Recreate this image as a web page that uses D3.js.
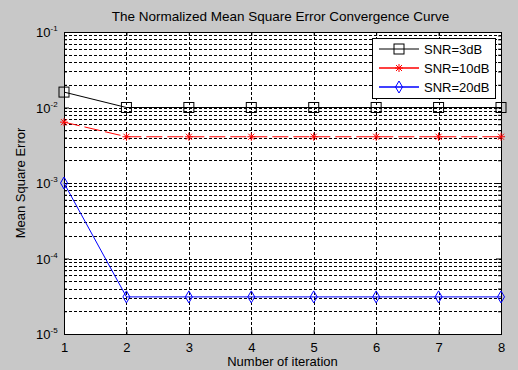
<!DOCTYPE html>
<html>
<head>
<meta charset="utf-8">
<script src="https://cdn.jsdelivr.net/npm/d3@7"></script>
<style>
  body { margin: 0; background: #c8c8c8; }
  svg { display: block; font-family: Arial, "Liberation Sans", sans-serif; }
</style>
</head>
<body>
<svg id="chart" width="518" height="370"></svg>
<script>
// data
const iterations = [1, 2, 3, 4, 5, 6, 7, 8];
const snr3 = [0.016, 0.01, 0.01, 0.01, 0.01, 0.01, 0.01, 0.01];
const snr10 = [0.0064, 0.0041, 0.0041, 0.0041, 0.0041, 0.0041, 0.0041, 0.0041];
const snr20 = [0.001, 3.1e-5, 3.1e-5, 3.1e-5, 3.1e-5, 3.1e-5, 3.1e-5, 3.1e-5];
const seriesNames = ["SNR=3dB", "SNR=10dB", "SNR=20dB"];
const yDecades = [-5, -4, -3, -2, -1];

const svg = d3.select("#chart");
const pLeft = 64, pRight = 501, pTop = 32, pBottom = 334;

const x = d3.scaleLinear().domain([1, 8]).range([pLeft, pRight]);
const y = d3.scaleLog().domain([1e-5, 1e-1]).range([pBottom, pTop]);

svg.append("rect").attr("width", 518).attr("height", 370).attr("fill", "#c8c8c8");
svg.append("rect")
    .attr("x", pLeft).attr("y", pTop)
    .attr("width", pRight - pLeft).attr("height", pBottom - pTop)
    .attr("fill", "white");

// grid
const grid = svg.append("g").attr("stroke", "black").attr("stroke-width", 1)
    .attr("stroke-dasharray", "3,2").attr("shape-rendering", "crispEdges");

const minorVals = [];
yDecades.slice(0, -1).forEach(e => {
    for (let m = 1; m < 10; m++) minorVals.push(m * Math.pow(10, e));
});
minorVals.push(1e-1);

grid.selectAll("line.h")
    .data(minorVals.filter(v => v < 0.099 && v > 1.01e-5))
    .enter().append("line")
    .attr("x1", pLeft).attr("x2", pRight)
    .attr("y1", d => Math.round(y(d)) + 0.5)
    .attr("y2", d => Math.round(y(d)) + 0.5);

grid.selectAll("line.v")
    .data(iterations.slice(1, -1))
    .enter().append("line")
    .attr("y1", pTop).attr("y2", pBottom)
    .attr("x1", d => Math.round(x(d)) + 0.5)
    .attr("x2", d => Math.round(x(d)) + 0.5);

// axes box
svg.append("rect")
    .attr("x", pLeft + 0.5).attr("y", pTop + 0.5)
    .attr("width", pRight - pLeft).attr("height", pBottom - pTop)
    .attr("fill", "none").attr("stroke", "black").attr("shape-rendering", "crispEdges");

// axes with inward ticks
const xAxis = d3.axisBottom(x).tickValues(iterations).tickFormat(d3.format("d"))
    .tickSizeInner(-4).tickSizeOuter(0).tickPadding(9);
const gx = svg.append("g").attr("transform", `translate(0,${pBottom})`).call(xAxis);
gx.select(".domain").remove();
gx.selectAll("text").attr("font-size", 13).attr("fill", "black")
    .attr("font-family", "Arial, 'Liberation Sans', sans-serif");

const xTop = d3.axisTop(x).tickValues(iterations).tickFormat("").tickSizeInner(-4).tickSizeOuter(0);
const gxt = svg.append("g").attr("transform", `translate(0,${pTop})`).call(xTop);
gxt.select(".domain").remove();

const yAxis = d3.axisLeft(y).tickValues(minorVals).tickFormat("")
    .tickSizeInner(-3).tickSizeOuter(0);
const gy = svg.append("g").attr("transform", `translate(${pLeft},0)`).call(yAxis);
gy.select(".domain").remove();
gy.selectAll(".tick line").filter(d => yDecades.some(e => Math.abs(Math.log10(d) - e) < 1e-9))
    .attr("x2", 5);

const yRight = d3.axisRight(y).tickValues(minorVals).tickFormat("")
    .tickSizeInner(-3).tickSizeOuter(0);
const gyr = svg.append("g").attr("transform", `translate(${pRight},0)`).call(yRight);
gyr.select(".domain").remove();
gyr.selectAll(".tick line").filter(d => yDecades.some(e => Math.abs(Math.log10(d) - e) < 1e-9))
    .attr("x2", -5);

// y tick labels as 10^e
const yLab = svg.append("g").attr("font-size", 13).attr("fill", "black");
yDecades.forEach(e => {
    const t = yLab.append("text")
        .attr("x", pLeft - 28).attr("y", y(Math.pow(10, e)) + 5)
        .attr("text-anchor", "start");
    t.append("tspan").text("10");
    t.append("tspan").attr("font-size", 8).attr("dy", -6).text(e);
});

// series
const series = [
    { name: seriesNames[0], values: snr3, color: "#000000", marker: "square", dash: null },
    { name: seriesNames[1], values: snr10, color: "#ff0000", marker: "star", dash: "16,5" },
    { name: seriesNames[2], values: snr20, color: "#0000ff", marker: "diamond", dash: null }
];

function drawMarker(g, type, color) {
    if (type === "square") {
        g.append("rect").attr("x", -5).attr("y", -5).attr("width", 10).attr("height", 10)
            .attr("fill", "none").attr("stroke", color);
    } else if (type === "star") {
        const s = 4;
        [[-s, 0, s, 0], [0, -s, 0, s], [-3, -3, 3, 3], [-3, 3, 3, -3]].forEach(l => {
            g.append("line").attr("x1", l[0]).attr("y1", l[1]).attr("x2", l[2]).attr("y2", l[3])
                .attr("stroke", color);
        });
    } else if (type === "diamond") {
        g.append("path").attr("d", "M0,-6L3.5,0L0,6L-3.5,0Z")
            .attr("fill", "none").attr("stroke", color);
    }
}

const line = d3.line().x((d, i) => x(iterations[i])).y(d => y(d));
const plot = svg.append("g");
series.forEach(s => {
    plot.append("path").datum(s.values)
        .attr("d", line)
        .attr("fill", "none")
        .attr("stroke", s.color)
        .attr("stroke-width", 1)
        .attr("stroke-dasharray", s.dash);
    s.values.forEach((v, i) => {
        const g = plot.append("g").attr("transform", `translate(${x(iterations[i])},${y(v)})`);
        drawMarker(g, s.marker, s.color);
    });
});

// legend
const lg = svg.append("g").attr("transform", "translate(372,38)");
lg.append("rect").attr("x", 0.5).attr("y", 0.5).attr("width", 123).attr("height", 60)
    .attr("fill", "white").attr("stroke", "black");
series.forEach((s, i) => {
    const yy = 11 + i * 19;
    lg.append("line").attr("x1", 7).attr("x2", 47).attr("y1", yy).attr("y2", yy)
        .attr("stroke", s.color).attr("stroke-width", i === 0 ? 1 : 1.5);
    const g = lg.append("g").attr("transform", `translate(27,${yy})`);
    drawMarker(g, s.marker, s.color);
    lg.append("text").attr("x", 52).attr("y", yy + 5)
        .attr("font-size", 13).attr("fill", "black").text(s.name);
});

// title and labels
svg.append("text").attr("x", (pLeft + pRight) / 2 - 2).attr("y", 21)
    .attr("text-anchor", "middle").attr("font-size", 13.5).attr("fill", "black")
    .text("The Normalized Mean Square Error Convergence Curve");
svg.append("text").attr("x", (pLeft + pRight) / 2).attr("y", 366)
    .attr("text-anchor", "middle").attr("font-size", 13).attr("fill", "black")
    .text("Number of iteration");
svg.append("text")
    .attr("transform", `translate(25,${(pTop + pBottom) / 2}) rotate(-90)`)
    .attr("text-anchor", "middle").attr("font-size", 13).attr("fill", "black")
    .text("Mean Square Error");
</script>
</body>
</html>
